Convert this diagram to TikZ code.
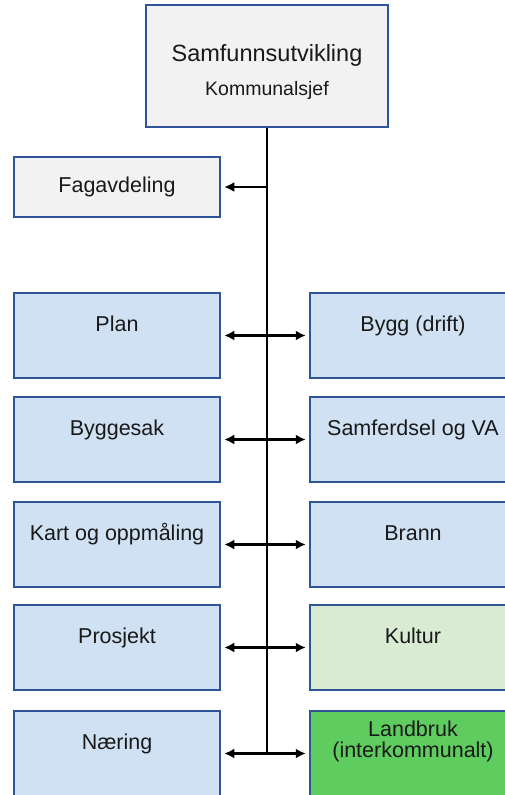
\documentclass[tikz,border=0pt]{standalone}
\usepackage{fontspec}
\setmainfont{Liberation Sans}
\usetikzlibrary{arrows.meta}
\definecolor{framecol}{HTML}{2F5597}
\definecolor{grayfill}{HTML}{F2F2F2}
\definecolor{bluefill}{HTML}{D0E1F3}
\definecolor{palegreen}{HTML}{DAEBD4}
\definecolor{darkgreen}{HTML}{5ECC5E}
\tikzset{
	unit/.style={draw=framecol, line width=2.5pt, fill=bluefill, minimum width=206pt, minimum height=85pt, inner sep=0pt},
	lbl/.style={anchor=base, inner sep=0pt, text=black!90, font=\fontsize{21.5}{21}\selectfont},
	link/.style={line width=2.2pt, {Latex[length=10pt,width=10pt]}-{Latex[length=10pt,width=10pt]}, shorten <=3pt, shorten >=3pt},
}

\begin{document}
\begin{tikzpicture}[x=1pt,y=-1pt]
			\useasboundingbox (0,0) rectangle (505,795);
			\clip (0,0) rectangle (505,795);
			% leder
			\node[unit, fill=grayfill, minimum width=242pt, minimum height=122pt] (top) at (267,66) {};
			\node[lbl, font=\fontsize{23.5}{28}\selectfont] (top-t) at ([yshift=-58pt]top.north) {Samfunnsutvikling};
			\node[lbl, font=\fontsize{19.5}{24}\selectfont] (top-s) at ([yshift=-92pt]top.north) {Kommunalsjef};
			\node[unit, fill=grayfill, minimum height=60pt] (fag) at (117,187) {};
			\node[lbl] (fag-t) at ([yshift=-37pt]fag.north) {Fagavdeling};
			% venstre
			\node[unit] (plan) at (117,335.5) {};
			\node[unit] (bsak) at (117,439.5) {};
			\node[unit] (kart) at (117,544.5) {};
			\node[unit] (proj) at (117,647.5) {};
			\node[unit] (naer) at (117,753.5) {};
			\node[lbl] (plan-t) at ([yshift=-40pt]plan.north) {Plan};
			\node[lbl] (bsak-t) at ([yshift=-40pt]bsak.north) {Byggesak};
			\node[lbl] (kart-t) at ([yshift=-40pt]kart.north) {Kart og oppmåling};
			\node[lbl] (proj-t) at ([yshift=-40pt]proj.north) {Prosjekt};
			\node[lbl] (naer-t) at ([yshift=-40pt]naer.north) {Næring};
			% hoyre
			\node[unit] (bygg) at (413,335.5) {};
			\node[unit] (samf) at (413,439.5) {};
			\node[unit] (brann) at (413,544.5) {};
			\node[unit, fill=palegreen] (kult) at (413,647.5) {};
			\node[unit, fill=darkgreen] (land) at (413,753.5) {};
			\node[lbl] (bygg-t) at ([yshift=-40pt]bygg.north) {Bygg (drift)};
			\node[lbl] (samf-t) at ([yshift=-40pt]samf.north) {Samferdsel og VA};
			\node[lbl] (brann-t) at ([yshift=-40pt]brann.north) {Brann};
			\node[lbl] (kult-t) at ([yshift=-40pt]kult.north) {Kultur};
			\node[lbl] (land-t) at ([yshift=-27pt]land.north) {Landbruk};
			\node[lbl] (land-u) at ([yshift=-48pt]land.north) {(interkommunalt)};
			% linjer
			\coordinate (fagjoin) at (top.south |- fag.east);
			\coordinate (trunkend) at (top.south |- naer.east);
			\draw[line width=2.2pt] (top.south) -- (trunkend);
			\draw[line width=2.2pt, -{Latex[length=10pt,width=10pt]}, shorten >=3pt] (fagjoin) -- (fag.east);
			\draw[link] (plan.east) -- (bygg.west);
			\draw[link] (bsak.east) -- (samf.west);
			\draw[link] (kart.east) -- (brann.west);
			\draw[link] (proj.east) -- (kult.west);
			\draw[link] (naer.east) -- (land.west);
		\end{tikzpicture}
\end{document}
